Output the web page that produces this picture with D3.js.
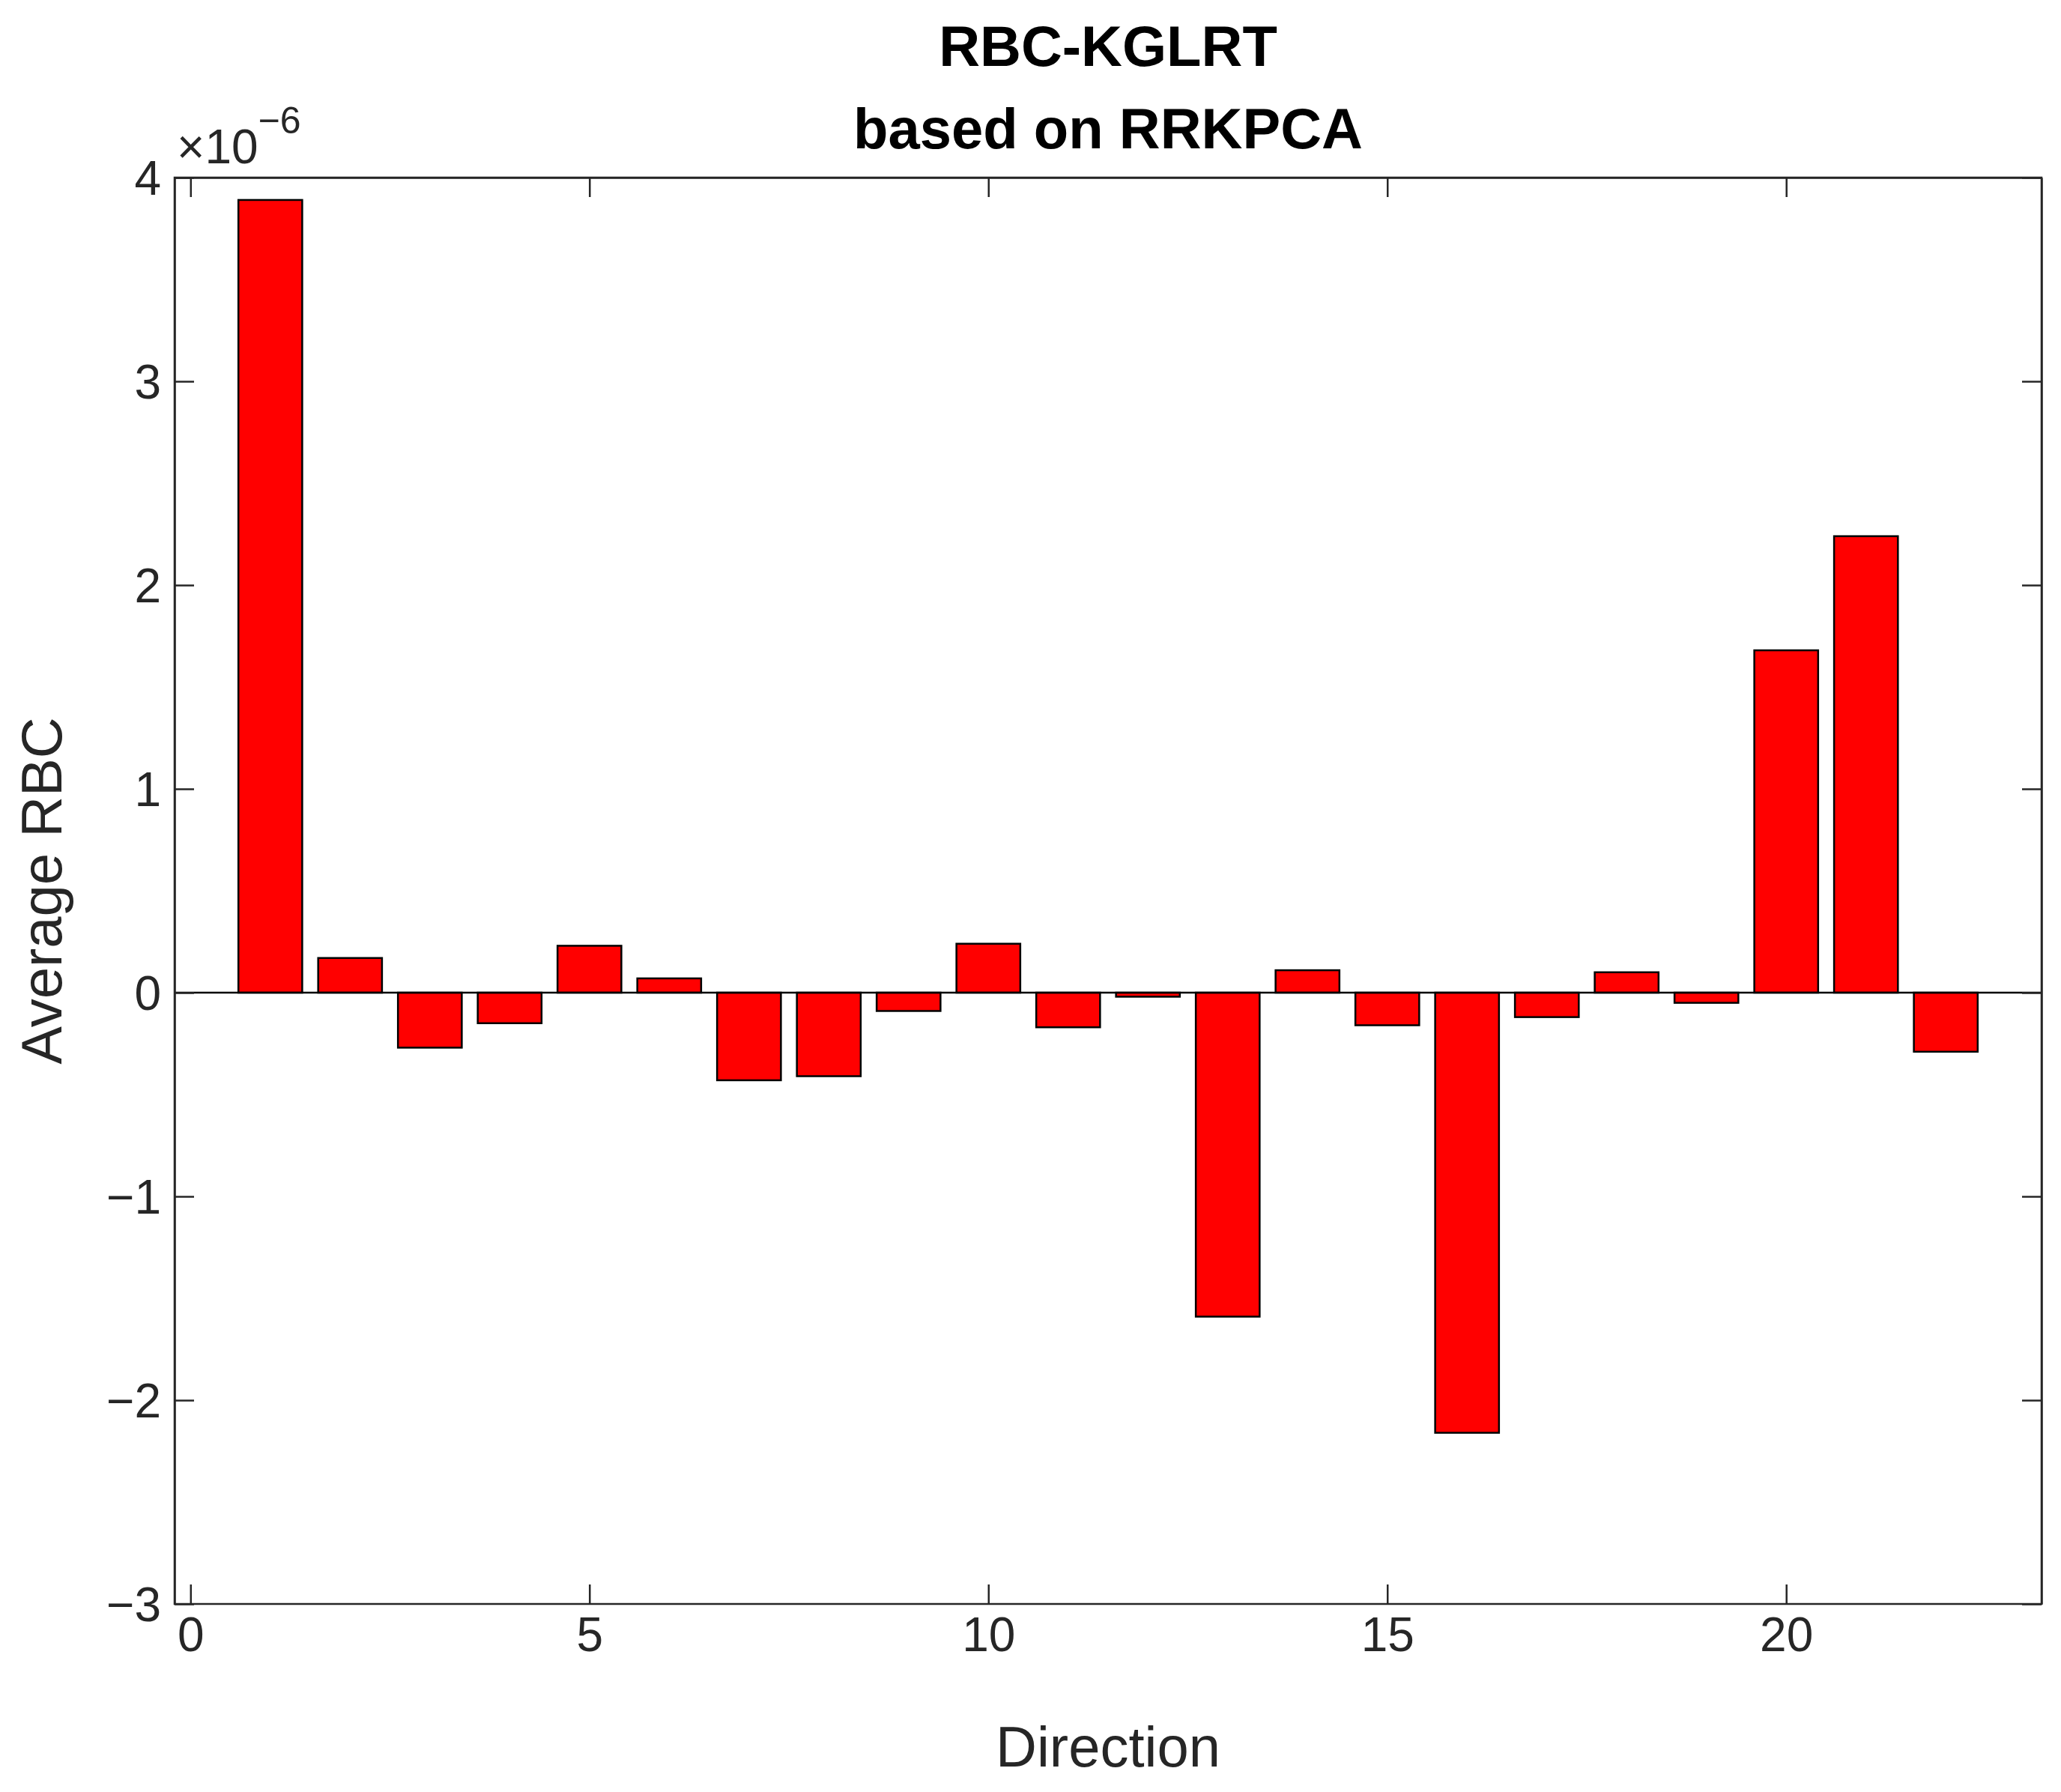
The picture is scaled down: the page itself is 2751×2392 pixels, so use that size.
<!DOCTYPE html>
<html><head><meta charset="utf-8">
<script src="https://cdn.jsdelivr.net/npm/d3@7"></script>
<style>body{margin:0;background:#fff}</style></head>
<body><svg id="c" width="2751" height="2392"></svg>
<script>
const directions = d3.range(1,23);
const values = [3.89,0.17,-0.27,-0.15,0.23,0.07,-0.43,-0.41,-0.09,0.24,-0.17,-0.02,-1.59,0.11,-0.16,-2.16,-0.12,0.10,-0.05,1.68,2.24,-0.29];
const xTicks = [0,5,10,15,20];
const yTicks = [-3,-2,-1,0,1,2,3,4];
const svg = d3.select("#c");
const L=233,R=2725,T=237,B=2141;
const x = d3.scaleLinear().domain([-0.2,23.2]).range([L,R]);
const y = d3.scaleLinear().domain([-3,4]).range([B,T]);
const font="Arial, 'Liberation Sans', sans-serif";
const col="#262626";
const g=svg.append("g");
g.selectAll("rect").data(values).enter().append("rect")
 .attr("x",(d,i)=>x(directions[i]-0.4)).attr("width",x(0.8)-x(0))
 .attr("y",d=>y(Math.max(0,d))).attr("height",d=>Math.abs(y(d)-y(0)))
 .attr("fill","#ff0000").attr("stroke","#000").attr("stroke-width",2.5);
g.append("line").attr("x1",L).attr("x2",R).attr("y1",y(0)).attr("y2",y(0)).attr("stroke","#000").attr("stroke-width",2.5);
const tl=26;
const ax=d3.axisBottom(x).tickValues(xTicks).tickSize(tl).tickPadding(18);
const gb=svg.append("g").attr("transform",`translate(0,${B})`).call(ax.tickSizeInner(-tl));
const gt=svg.append("g").attr("transform",`translate(0,${T})`).call(d3.axisTop(x).tickValues(xTicks).tickSizeInner(-tl).tickSizeOuter(0).tickFormat(""));
const gl=svg.append("g").attr("transform",`translate(${L},0)`).call(d3.axisLeft(y).tickValues(yTicks).tickSizeInner(-tl).tickSizeOuter(0).tickPadding(18).tickFormat(d=>d<0?"\u2212"+(-d):d));
const gr=svg.append("g").attr("transform",`translate(${R},0)`).call(d3.axisRight(y).tickValues(yTicks).tickSizeInner(-tl).tickSizeOuter(0).tickFormat(""));
gb.call(a=>a.select(".domain").remove());
[gb,gt,gl,gr].forEach(a=>{a.selectAll("line").attr("stroke",col).attr("stroke-width",2.5);a.selectAll("text").attr("font-family",font).attr("font-size",64).attr("fill",col);a.select(".domain").attr("stroke",col).attr("stroke-width",2.5);});
gl.selectAll("text").attr("dy","0.35em");
svg.append("rect").attr("x",L).attr("y",T).attr("width",R-L).attr("height",B-T).attr("fill","none").attr("stroke",col).attr("stroke-width",2.5);
svg.append("text").attr("x",(L+R)/2).attr("y",88).attr("text-anchor","middle").attr("font-family",font).attr("font-weight","bold").attr("font-size",76).attr("fill","#000").text("RBC-KGLRT");
svg.append("text").attr("x",(L+R)/2).attr("y",198).attr("text-anchor","middle").attr("font-family",font).attr("font-weight","bold").attr("font-size",76).attr("fill","#000").text("based on RRKPCA");
svg.append("text").attr("x",(L+R)/2).attr("y",2358).attr("text-anchor","middle").attr("font-family",font).attr("font-size",76).attr("fill",col).text("Direction");
svg.append("text").attr("transform",`translate(82,${(T+B)/2}) rotate(-90)`).attr("text-anchor","middle").attr("font-family",font).attr("font-size",76).attr("fill",col).text("Average RBC");
const ex=svg.append("text").attr("x",236).attr("y",218).attr("font-family",font).attr("font-size",64).attr("fill",col);
ex.append("tspan").text("\u00d710");
ex.append("tspan").attr("dy",-40).attr("font-size",50).text("\u22126");
</script></body></html>
